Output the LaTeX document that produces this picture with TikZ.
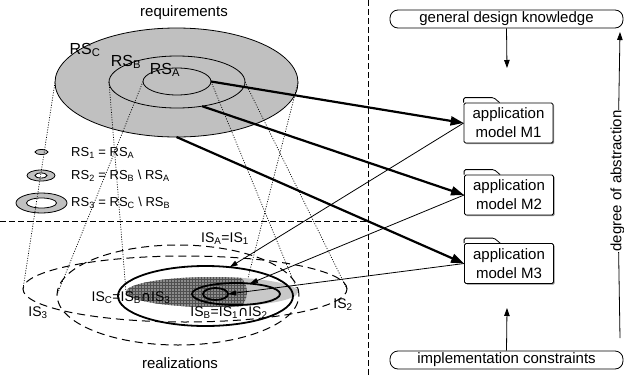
\documentclass[tikz,border=0pt]{standalone}
\usepackage{fontspec}
\setmainfont{Liberation Sans}
\newfontfamily\dvs{DejaVu Sans}
\usetikzlibrary{shapes.geometric,arrows.meta,patterns,shadows}
\newcommand\sbs[1]{\textsubscript{#1}}
\newcommand\capsym{{\dvs ∩}}
\definecolor{rsgray}{HTML}{C0C0C0}
\definecolor{lightis}{HTML}{C8C8C8}
\definecolor{darkis}{HTML}{8C8C8C}
\definecolor{hatch}{HTML}{505050}
\begin{document}
\begin{tikzpicture}[x=1pt,y=-1pt,
  every node/.style={font=\fontsize{15}{18}\selectfont},
  ringnode/.style={ellipse,draw,inner sep=0pt,outer sep=0pt,line width=0.8pt},
  dashring/.style={ringnode,dash pattern=on 8pt off 5pt,line width=1pt},
  solidring/.style={ringnode,line width=1.8pt},
  dotline/.style={line width=0.7pt,dash pattern=on 1pt off 1.5pt},
  sepline/.style={line width=0.8pt,dash pattern=on 6pt off 3pt},
  thickarrow/.style={line width=2.2pt,-{Triangle[length=13pt,width=9pt]}},
  thinarrow/.style={line width=0.8pt,-{Triangle[length=8pt,width=5pt]}},
  smallarrow/.style={line width=0.8pt,-{Triangle[length=8pt,width=5.5pt]}},
  appbox/.style={draw,fill=white,rounded corners=1.5pt,minimum width=89pt,minimum height=40pt,
    align=center,inner sep=0pt,line width=0.8pt,
    drop shadow={shadow xshift=1.2pt,shadow yshift=-1.2pt,fill=black,opacity=0.45},
    font=\fontsize{15}{19}\selectfont},
  roundbox/.style={draw,rounded corners=8pt,minimum width=233pt,minimum height=18pt,inner sep=0pt,line width=0.8pt},
  tabline/.style={line width=0.8pt,rounded corners=1.5pt},
  rslbl/.style={inner sep=0pt,font=\fontsize{16}{18}\selectfont},
  islbl/.style={inner sep=0pt,font=\fontsize{14}{16}\selectfont},
  leglbl/.style={inner sep=0pt,anchor=west,font=\fontsize{13}{15}\selectfont}
]
\useasboundingbox (0,0) rectangle (624,375);

% separators
\coordinate (vtop) at (368,0);
\coordinate (vbot) at (368,375);
\coordinate (hleft) at (0,221);
\coordinate (hright) at (371,221);
\draw[sepline] (vtop) -- (vbot);
\draw[sepline] (hleft) -- (hright);

% requirement sets
\node[ringnode,fill=rsgray,minimum width=243pt,minimum height=109pt] (rsc) at (176.5,82.5) {};
\node[ringnode,minimum width=136pt,minimum height=52pt] (rsb) at (177,82) {};
\node[ringnode,minimum width=68pt,minimum height=27pt] (rsa) at (177,81.5) {};
\node[rslbl] (lrsc) at (85,50) {RS\sbs{C}};
\node[rslbl] (lrsb) at (126,62) {RS\sbs{B}};
\node[rslbl] (lrsa) at (165,70) {RS\sbs{A}};
\node[inner sep=0pt] (req) at (184,13) {requirements};

% legend
\node[ringnode,fill=rsgray,minimum width=13pt,minimum height=5pt] (l1) at (41.5,152) {};
\node[ringnode,fill=rsgray,minimum width=28pt,minimum height=11pt] (l2o) at (41,175.5) {};
\node[ringnode,fill=white,minimum width=12pt,minimum height=5pt] (l2i) at (41,175.5) {};
\node[ringnode,fill=rsgray,minimum width=51pt,minimum height=20pt] (l3o) at (41.5,203) {};
\node[ringnode,fill=white,minimum width=30pt,minimum height=10pt] (l3i) at (41.5,203) {};
\node[leglbl] (t1) at (71,153) {RS\sbs{1} = RS\sbs{A}};
\node[leglbl] (t2) at (71,175.5) {RS\sbs{2} = RS\sbs{B} \textbackslash\ RS\sbs{A}};
\node[leglbl] (t3) at (71,203) {RS\sbs{3} = RS\sbs{C} \textbackslash\ RS\sbs{B}};

% realization sets
\node[ringnode,draw=none,fill=lightis,minimum width=172pt,minimum height=30pt] (isb) at (212,292) {};
\begin{scope}
  \clip (212,292) ellipse [x radius=86, y radius=15];
  \clip (160,292) ellipse [x radius=87, y radius=40];
  \fill[darkis] (120,270) rectangle (260,315);
  \fill[pattern=grid,pattern color=hatch] (120,270) rectangle (260,315);
\end{scope}
\node[dashring,minimum width=242pt,minimum height=100pt] (R) at (178,295) {};
\node[dashring,minimum width=324pt,minimum height=66pt] (S) at (185,289) {};
\node[solidring,minimum width=175pt,minimum height=60pt] (isa) at (205.5,296) {};
\node[solidring,minimum width=88pt,minimum height=22pt] (mid) at (236,294) {};
\node[solidring,minimum width=25pt,minimum height=12pt] (inn) at (215.5,294) {};
\coordinate (iscr) at (248,278);

\node[islbl] (lisa) at (225,239) {IS\sbs{A}=IS\sbs{1}};
\node[islbl] (lisc) at (131,298) {IS\sbs{C}=IS\sbs{B}\capsym IS\sbs{3}};
\node[islbl] (lisb) at (229,313) {IS\sbs{B}=IS\sbs{1}\capsym IS\sbs{2}};
\node[islbl] (lis3) at (38,313) {IS\sbs{3}};
\node[islbl] (lis2) at (343,305) {IS\sbs{2}};
\node[inner sep=0pt] (real) at (180,363) {realizations};

% dotted projections
\draw[dotline] (rsc.west) -- (S.west);
\draw[dotline] (rsb.west) -- (isb.west);
\draw[dotline] (rsa.west) -- (R.west);
\draw[dotline] (rsa.east) -- (isb.east);
\draw[dotline] (rsb.east) -- (S.east);
\draw[dotline] (rsc.east) -- (iscr);

% application models
\node[appbox] (m1) at (508.5,123) {application\\model M1};
\node[appbox] (m2) at (509,195) {application\\model M2};
\node[appbox] (m3) at (509,263.5) {application\\model M3};
\foreach \m in {m1,m2,m3}{
  \draw[tabline] (\m.north west) -- ++(0,-5) -- ++(30,0) -- ++(6,5);
}

% arrows
\draw[thickarrow] (rsa.east) -- (m1.west);
\draw[thickarrow] (rsb.-44) -- (m2.west);
\draw[thickarrow] (rsc.south) -- (m3.west);
\draw[thinarrow] (m1.west) -- (isa.50);
\draw[thinarrow] (m2.west) -- (mid.37);
\draw[thinarrow] (m3.west) -- (inn.east);

% right column
\node[roundbox] (gdk) at (506.5,19) {general design knowledge};
\node[roundbox] (ic) at (506.5,360) {implementation constraints};
\coordinate (gdkend) at (507,68);
\coordinate (icend) at (507,308);
\draw[smallarrow] (gdk.south) -- (gdkend);
\draw[smallarrow] (ic.north) -- (icend);

\coordinate (dbot) at (620,338);
\coordinate (dtop) at (620,32);
\node[rotate=90,inner sep=0.5pt] (doa) at (617.5,181) {degree of abstraction};
\draw[line width=0.8pt] (dbot) -- (doa);
\draw[smallarrow] (doa) -- (dtop);
\end{tikzpicture}
\end{document}
